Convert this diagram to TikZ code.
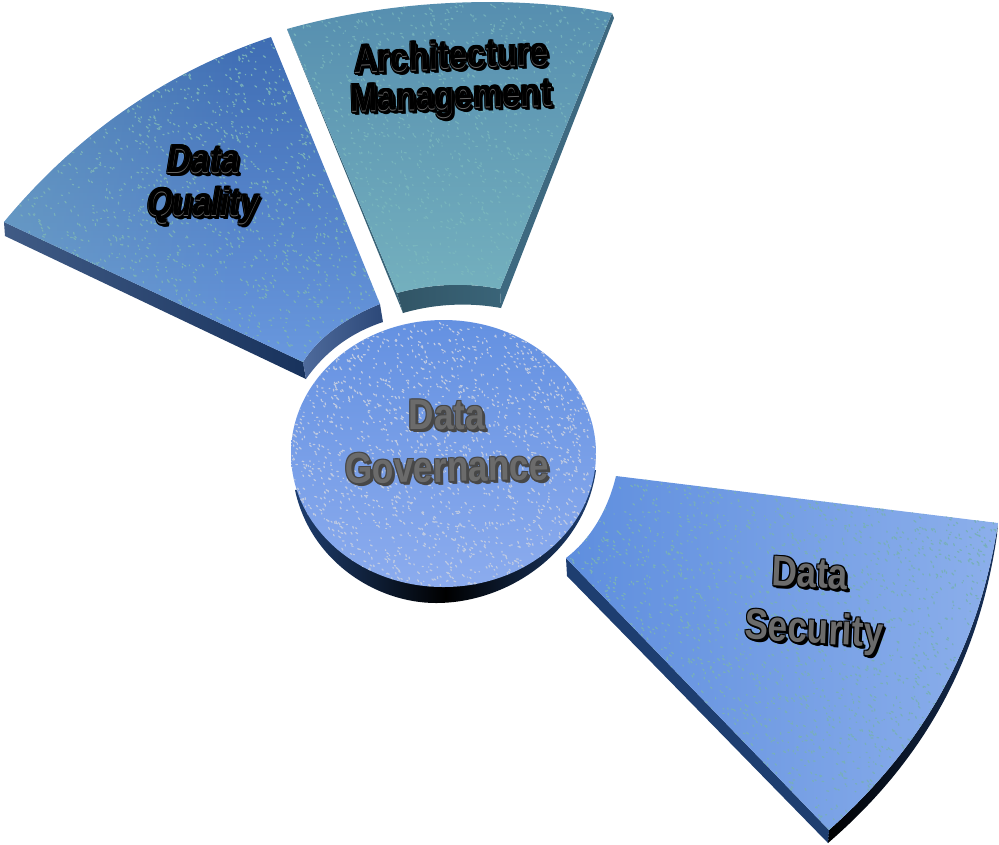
\documentclass[tikz,border=0pt]{standalone}
\usepackage{fontspec}
\setmainfont{Liberation Sans}
\usetikzlibrary{calc,fadings}

\definecolor{qualitydark}{RGB}{62,108,178}
\definecolor{qualitylight}{RGB}{108,155,225}
\definecolor{qualityspeck}{RGB}{120,175,185}
\definecolor{sidenavy}{RGB}{30,62,112}
\definecolor{sidedeep}{RGB}{24,50,92}
\definecolor{innerpale}{RGB}{78,106,155}
\definecolor{innerdark}{RGB}{44,72,120}
\definecolor{archdark}{RGB}{86,142,175}
\definecolor{archlight}{RGB}{116,176,190}
\definecolor{archspeck}{RGB}{124,186,190}
\definecolor{archside}{RGB}{62,105,128}
\definecolor{archinnerc}{RGB}{58,100,120}
\definecolor{discblue}{RGB}{100,145,225}
\definecolor{disclight}{RGB}{140,172,238}
\definecolor{discspeck}{RGB}{190,202,226}
\definecolor{securityblue}{RGB}{94,142,222}
\definecolor{securitylight}{RGB}{140,175,235}

\newcommand{\qualitytop}{(4,222) .. controls (77,134) and (166,72) .. (271,37) -- (380,304) .. controls (345,318) and (318,338) .. (303,362) -- cycle}
\newcommand{\qualityside}{(4,222) -- (5,236) -- (306,379) -- (303,362) -- cycle}
\newcommand{\qualityinner}{(303,362) .. controls (318,338) and (345,318) .. (380,304) -- (383,322) .. controls (350,333) and (325,352) .. (306,379) -- cycle}
\newcommand{\archtop}{(287,29) .. controls (390,0) and (510,-6) .. (612,13) -- (500,289) .. controls (466,282) and (430,284) .. (397,293) -- cycle}
\newcommand{\archside}{(612,13) -- (614,18) -- (501,308) -- (500,289) -- cycle}
\newcommand{\archinner}{(397,293) .. controls (430,284) and (466,282) .. (500,289) -- (501,308) .. controls (468,302) and (434,304) .. (403,313) -- cycle}
\newcommand{\archleft}{(287,29) -- (293,44) -- (403,313) -- (397,293) -- cycle}
\newcommand{\securitytop}{(616,476) -- (998,523) .. controls (980,640) and (930,740) .. (829,830) -- (566,558) .. controls (590,540) and (608,510) .. (616,476) -- cycle}
\newcommand{\securityside}{(566,558) -- (567,576) -- (828,843) -- (829,830) -- cycle}
\newcommand{\securityouter}{(829,830) .. controls (930,740) and (980,640) .. (998,523) -- (997,535) .. controls (980,652) and (930,755) .. (828,843) -- cycle}

\begin{document}
\begin{tikzpicture}
        [x=0.01cm,y=-0.01cm,
         speck/.style={line width=0.35pt,line cap=round},
         word/.style={font=\bfseries\fontsize{10}{10}\selectfont,inner sep=0pt,yscale=1.22},
         slim/.style={word,font=\bfseries\fontsize{9.4}{10}\selectfont}]
        \useasboundingbox (0,0) rectangle (999,844);

        \shade[left color=sidenavy!85,right color=sidedeep] \qualityside;
        \shade[left color=innerpale,right color=innerdark] \qualityinner;
        \shade[left color=archinnerc!85!black,right color=archinnerc] \archinner;
        \fill[archside] \archside;
        \fill[archinnerc] \archleft;
        \shade[left color=black,right color=sidedeep] \securityouter;
        \fill[sidenavy] \securityside;

        \shade[left color=sidenavy,right color=sidenavy,middle color=black]
          (295,490) .. controls (310,560) and (375,603) .. (436,603)
          .. controls (510,603) and (585,550) .. (596,470) -- cycle;

        \begin{scope}
          \clip \qualitytop;
          \shade[shading angle=150,top color=qualitydark,bottom color=qualitylight] (0,30) rectangle (385,385);
          \fill[qualityspeck,opacity=0.45,path fading=east] (0,30) rectangle (240,385);
          \pgfmathsetseed{11}
          \foreach \i in {1,...,2200}
            \draw[speck,qualityspeck] ({rnd*385},{30+rnd*355}) -- ++({2*rnd},{2*rnd});
        \end{scope}

        \begin{scope}
          \clip \archtop;
          \shade[top color=archdark,bottom color=archlight] (280,0) rectangle (620,295);
          \pgfmathsetseed{23}
          \foreach \i in {1,...,1600}
            \draw[speck,archspeck,opacity=0.7] ({280+rnd*340},{rnd*295}) -- ++({2*rnd},{2*rnd});
        \end{scope}

        \begin{scope}
          \clip (443.5,453.5) ellipse (152.5 and 133.5);
          \shade[shading angle=30,top color=discblue,bottom color=disclight] (290,320) rectangle (600,590);
          \pgfmathsetseed{37}
          \foreach \i in {1,...,2000}
            \draw[speck,discspeck] ({290+rnd*310},{320+rnd*270}) -- ++({2*rnd},{2*rnd});
        \end{scope}

        \begin{scope}
          \clip \securitytop;
          \shade[left color=securityblue,right color=securitylight] (560,470) rectangle (1000,835);
          \pgfmathsetseed{53}
          \foreach \i in {1,...,2800}
            \draw[speck,qualityspeck] ({560+rnd*440},{470+rnd*365}) -- ++({2*rnd},{2*rnd});
        \end{scope}

        \foreach \dx/\dy in {-1/-1,1/-1,-1/1,1/1,0/2,2/2,3/3}
          {
          \path node[slim,black,xslant=0.2] at ($(204,160)+(\dx,\dy)$) {Data}
                node[slim,black,xslant=0.2] at ($(203,206)+(\dx,\dy)$) {Quality}
                node[slim,black,rotate=2] at ($(451,55)+(\dx,\dy)$) {Architecture}
                node[slim,black,rotate=1.5] at ($(451,100)+(\dx,\dy)$) {Management}
                node[word,black!72] at ($(447,415)+(\dx,\dy)$) {Data}
                node[word,black!72,rotate=1] at ($(447,467)+(\dx,\dy)$) {Governance}
                node[word,black,rotate=-3] at ($(810,573)+(\dx,\dy)$) {Data}
                node[word,black,rotate=-3] at ($(814,632)+(\dx,\dy)$) {Security};
          }
        \path node (quality1) [slim,black!60,xslant=0.2] at (204,160) {Data}
              node (quality2) [slim,black!60,xslant=0.2] at (203,206) {Quality}
              node (arch1) [slim,black!60,rotate=2] at (451,55) {Architecture}
              node (arch2) [slim,black!60,rotate=1.5] at (451,100) {Management}
              node (gov1) [word,black!58] at (447,415) {Data}
              node (gov2) [word,black!58,rotate=1] at (447,467) {Governance}
              node (security1) [word,black!58,rotate=-3] at (810,573) {Data}
              node (security2) [word,black!58,rotate=-3] at (814,632) {Security};
        \path node[slim,black,xslant=0.2] at (204,159) {Data}
              node[slim,black,xslant=0.2] at (203,205) {Quality}
              node[slim,black,rotate=2] at (451,54) {Architecture}
              node[slim,black,rotate=1.5] at (451,99) {Management};
      \end{tikzpicture}
\end{document}
